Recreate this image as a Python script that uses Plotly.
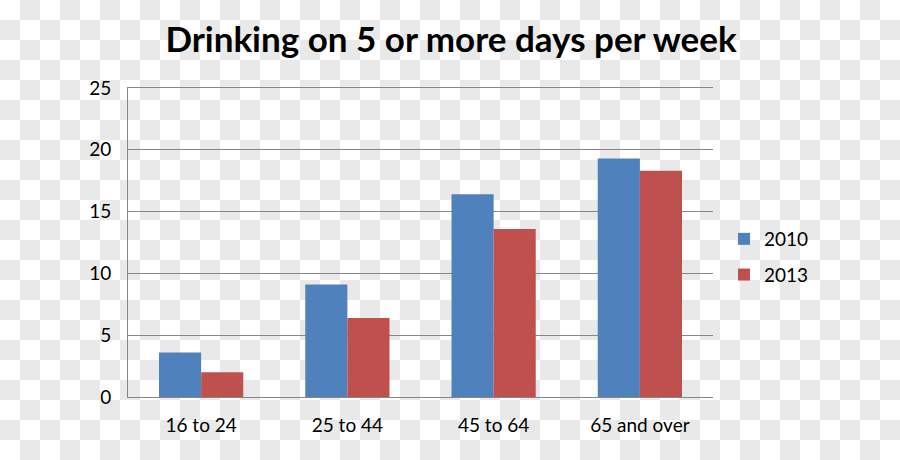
import plotly.graph_objects as go

categories = ["16 to 24", "25 to 44", "45 to 64", "65 and over"]
values_2010 = [3.6, 9.1, 16.4, 19.3]
values_2013 = [2.0, 6.4, 13.6, 18.3]
series_names = ["2010", "2013"]
y_ticks = [0, 5, 10, 15, 20, 25]

W, H = 900, 460
ML, MR, MT, MB = 128, 187, 88, 63
PW, PH = W - ML - MR, H - MT - MB
CELL = 20


def px_x(px):
    return (px - ML) / PW


def px_y(py):
    return 1 - (py - MT) / PH


# checkerboard backdrop (decoration only) as one path in paper coordinates
parts = []
for j in range(H // CELL + 1):
    for i in range(W // CELL + 1):
        if (i + j) % 2 == 1:
            x0, x1 = px_x(i * CELL), px_x((i + 1) * CELL)
            y0, y1 = px_y(j * CELL), px_y((j + 1) * CELL)
            parts.append(f"M{x0:.5f},{y0:.5f}H{x1:.5f}V{y1:.5f}H{x0:.5f}Z")
checker_path = "".join(parts)

fig = go.Figure()
fig.add_trace(go.Bar(x=categories, y=values_2010, name=series_names[0],
                     marker=dict(color="#4F81BD", line=dict(width=0)),
                     legendgroup="a"))
fig.add_trace(go.Bar(x=categories, y=values_2013, name=series_names[1],
                     marker=dict(color="#C0504D", line=dict(width=0)),
                     legendgroup="b"))

fig.update_layout(
    width=W, height=H,
    margin=dict(l=ML, r=MR, t=MT, b=MB, pad=0),
    paper_bgcolor="#ffffff",
    plot_bgcolor="rgba(0,0,0,0)",
    barmode="group",
    bargap=0.424,
    bargroupgap=0,
    font=dict(family="Lato, sans-serif", color="#000000", size=19),
    title=dict(text="<b>Drinking on 5 or more days per week</b>",
               x=451 / W, xref="container", xanchor="center",
               y=1 - 40 / H, yref="container", yanchor="middle",
               font=dict(family="Lato, sans-serif", size=35, color="#000000")),
    legend=dict(x=(724 - ML) / PW, xanchor="left",
                y=1 - (257 - MT) / PH, yanchor="middle",
                bgcolor="rgba(0,0,0,0)", font=dict(size=19, color="#000000"),
                tracegroupgap=8, itemwidth=30),
    shapes=[dict(type="path", path=checker_path, xref="paper", yref="paper",
                 fillcolor="#e9e9e9", line=dict(width=0), layer="below")],
    showlegend=True,
)
fig.update_xaxes(showline=True, mirror=True, linecolor="#868686", linewidth=1,
                 showgrid=False, ticks="", ticklabelstandoff=11,
                 tickfont=dict(size=19))
fig.update_yaxes(range=[0, 25], tickvals=y_ticks, showgrid=True,
                 gridcolor="#868686", gridwidth=1, showline=True,
                 linecolor="#868686", linewidth=1, ticks="",
                 zeroline=False, ticklabelstandoff=12,
                 tickfont=dict(size=19))

fig.write_html("out.html",
               config=dict(displayModeBar=False),
               post_script="document.body.style.margin='0';"
                           "document.body.style.padding='0';")
